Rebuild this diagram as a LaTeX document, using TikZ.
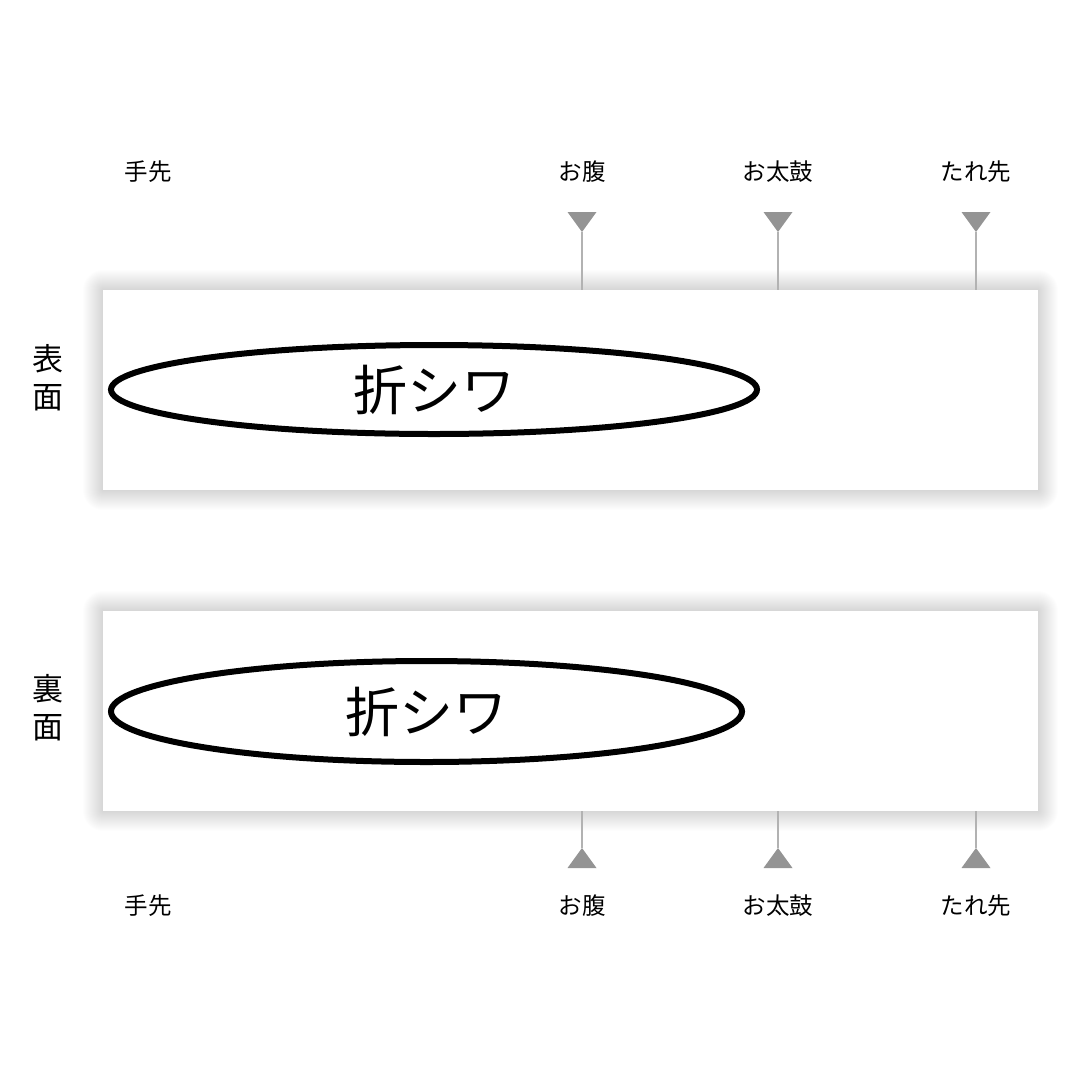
\documentclass[tikz,border=0pt]{standalone}
\usepackage{fontspec}
\setmainfont{Noto Sans CJK JP}
\usetikzlibrary{shapes.geometric}
\begin{document}
\begin{tikzpicture}[x=1pt,y=-1pt,
  band/.style={fill=white, minimum width=935pt, minimum height=200pt, inner sep=0},
  fold/.style={draw, ellipse, line width=6pt, inner sep=0, font=\fontsize{54}{60}\selectfont},
  part/.style={font=\fontsize{23.5}{28}\selectfont, inner sep=0},
  face/.style={font=\fontsize{31}{38}\selectfont, align=center, inner sep=0},
  pin/.style={draw=black!30, line width=1.5pt},
  tri/.style={fill=black!42}]
  \useasboundingbox[fill=white] (0,0) rectangle (1080,1080);
  \foreach \y in {290,611}
    \foreach \s in {1,...,20}
      \fill[black, opacity=.007, rounded corners=\s pt] (103-\s,\y-\s) rectangle (1038+\s,\y+200+\s);
  \node[band] (f) at (570.5,390) {};
  \node[band] (b) at (570.5,711) {};
  \node[fold, minimum width=646pt, minimum height=89pt] (e1) at (434,389.5) {折シワ};
  \node[fold, minimum width=631pt, minimum height=101pt] (e2) at (426.5,711.5) {折シワ};
  \node[face] (fl) at (48,378) {表\\面};
  \node[face] (bl) at (48,708) {裏\\面};
  \node[part] (t0) at (148,172) {手先};
  \node[part] (t1) at (582,172) {お腹};
  \node[part] (t2) at (778,172) {お太鼓};
  \node[part] (t3) at (976,172) {たれ先};
  \node[part] (u0) at (148,906) {手先};
  \node[part] (u1) at (582,906) {お腹};
  \node[part] (u2) at (778,906) {お太鼓};
  \node[part] (u3) at (976,906) {たれ先};
  \foreach \x [count=\i] in {582,778,976} {
    \coordinate (p\i) at (\x,232);
    \coordinate (q\i) at (\x,848);
    \fill[tri] (p\i) -- ++(-14.5,-20) -- ++(29,0) -- cycle;
    \fill[tri] (q\i) -- ++(-14.5,20) -- ++(29,0) -- cycle;
    \path[pin] (p\i) -- (f.north -| p\i);
    \path[pin] (q\i) -- (b.south -| q\i);
  }
\end{tikzpicture}
\end{document}
